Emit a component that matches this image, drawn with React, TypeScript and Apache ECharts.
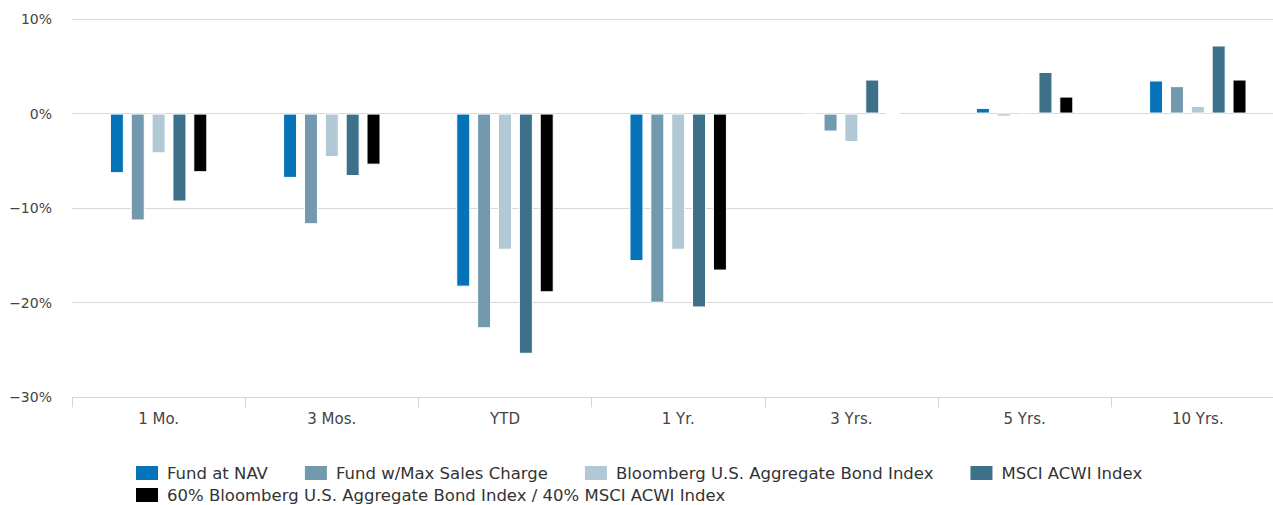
import React, { useEffect, useRef } from "react";
import * as echarts from "echarts";

const categories = ["1 Mo.", "3 Mos.", "YTD", "1 Yr.", "3 Yrs.", "5 Yrs.", "10 Yrs."];
const seriesNames = [
  "Fund at NAV",
  "Fund w/Max Sales Charge",
  "Bloomberg U.S. Aggregate Bond Index",
  "MSCI ACWI Index",
  "60% Bloomberg U.S. Aggregate Bond Index / 40% MSCI ACWI Index",
];
const fundNav = [-6.3, -6.8, -18.3, -15.6, -0.15, 0.6, 3.5];
const fundMaxSales = [-11.3, -11.7, -22.7, -20.0, -1.9, -0.3, 2.9];
const bloombergAgg = [-4.2, -4.6, -14.4, -14.4, -3.0, -0.15, 0.8];
const msciAcwi = [-9.3, -6.6, -25.4, -20.5, 3.6, 4.4, 7.2];
const blend6040 = [-6.2, -5.4, -18.9, -16.6, 0.0, 1.8, 3.6];
const seriesValues = [fundNav, fundMaxSales, bloombergAgg, msciAcwi, blend6040];
const colors = ["#0673b8", "#7399ae", "#b0c9d4", "#3c7189", "#000000"];

const FONT = "'DejaVu Sans', Verdana, sans-serif";

export default function App() {
  const ref = useRef<HTMLDivElement>(null);
  useEffect(() => {
    if (!ref.current) return;
    const chart = echarts.init(ref.current, null, { renderer: "svg" });
    const legendText = {
      fontFamily: FONT,
      fontSize: 16.5,
      color: "#333333",
      lineHeight: 16,
      padding: [0, 0, 0, 3],
    };
    const legendBase = {
      icon: "rect",
      itemWidth: 24,
      itemHeight: 16,
      itemGap: 35,
      padding: 0,
      textStyle: legendText,
      selectedMode: false,
    };
    chart.setOption({
      animation: false,
      grid: { left: 72, top: 19, width: 1212.4, height: 378.3, containLabel: false },
      legend: [
        { ...legendBase, data: seriesNames.slice(0, 4), left: 134, top: 464 },
        { ...legendBase, data: seriesNames.slice(4), left: 134, top: 486 },
      ],
      xAxis: {
        type: "category",
        data: categories,
        axisLine: { show: true, onZero: false, lineStyle: { color: "#ccd6eb", width: 1 } },
        axisTick: { show: true, length: 10, lineStyle: { color: "#ccd6eb" } },
        axisLabel: { fontFamily: FONT, fontSize: 15, color: "#444444", margin: 14 },
        splitLine: { show: false },
      },
      yAxis: {
        type: "value",
        min: -30,
        max: 10,
        interval: 10,
        axisLine: { show: false },
        axisTick: { show: false },
        axisLabel: {
          fontFamily: FONT,
          fontSize: 14,
          color: "#444444",
          margin: 20,
          formatter: (v: number) => (v < 0 ? "\u2212" + Math.abs(v) + "%" : v + "%"),
        },
        splitLine: { show: true, lineStyle: { color: "#d8d8d8", width: 1 } },
      },
      series: seriesNames.map((name, i) => ({
        name,
        type: "bar",
        data: seriesValues[i],
        barWidth: 14,
        barGap: "49%",
        itemStyle: { color: colors[i], borderColor: "#ffffff", borderWidth: 1 },
      })),
    });
    return () => chart.dispose();
  }, []);
  return (
    <div
      style={{
        position: "absolute",
        left: 0,
        top: 0,
        width: 1273,
        height: 505,
        overflow: "hidden",
      }}
    >
      <div ref={ref} style={{ width: 1290, height: 505 }} />
    </div>
  );
}
